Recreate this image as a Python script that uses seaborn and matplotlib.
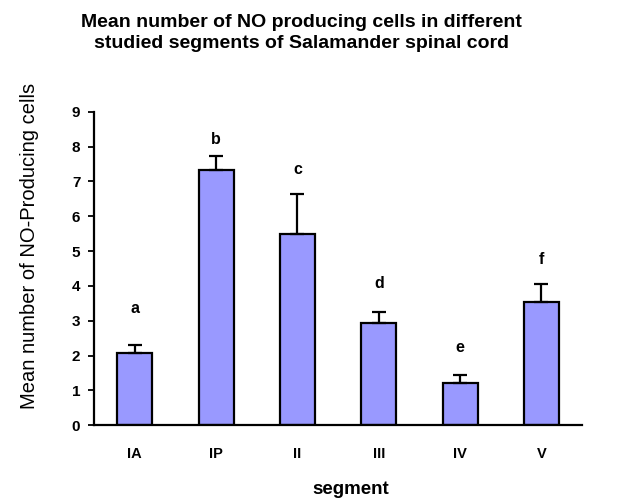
import matplotlib
matplotlib.use("Agg")
import matplotlib.pyplot as plt
import seaborn as sns
import pandas as pd
import numpy as np

segments = ["IA", "IP", "II", "III", "IV", "V"]
means = [2.07, 7.33, 5.49, 2.94, 1.20, 3.53]
errors = [0.23, 0.40, 1.14, 0.30, 0.24, 0.51]
letters = ["a", "b", "c", "d", "e", "f"]
letter_y = [3.36, 8.2, 7.33, 4.08, 2.24, 4.77]

sns.set_theme(style="white")
plt.rcParams['font.family'] = ['Liberation Sans', 'DejaVu Sans']
plt.rcParams['text.color'] = 'black'
plt.rcParams['axes.labelcolor'] = 'black'
plt.rcParams['xtick.color'] = 'black'
plt.rcParams['ytick.color'] = 'black'

df = pd.DataFrame({"segment": segments, "mean": means})

fig = plt.figure(figsize=(6.32, 4.99), dpi=100)
ax = fig.add_axes([0.149, 0.148, 0.772, 0.628])

sns.barplot(data=df, x="segment", y="mean", ax=ax, color="#9999FF",
            saturation=1, width=0.43, edgecolor="black", linewidth=1.6)

x = np.arange(len(segments))
ax.errorbar(x, means, yerr=[np.zeros(len(errors)), errors], fmt="none",
            ecolor="black", elinewidth=1.6, capsize=5, capthick=1.6)

for xi, (lt, ly) in enumerate(zip(letters, letter_y)):
    ax.text(xi, ly, lt, ha="center", va="center", fontsize=11.5, fontweight="bold")

ax.set_xlim(-0.5, len(segments) - 0.5)
ax.set_ylim(0, 9)
ax.set_yticks(range(0, 10))
ax.set_xticks(np.arange(-0.5, len(segments), 1.0), minor=True)
ax.tick_params(axis="x", which="major", length=0, labelsize=10.5, pad=16)
ax.tick_params(axis="x", which="minor", length=4, width=1.3, direction="out")
ax.tick_params(axis="y", which="major", length=4, width=1.3, direction="out",
               labelsize=11, left=True, pad=6)
for lbl in ax.get_xticklabels() + ax.get_yticklabels():
    lbl.set_fontweight("bold")

for s in ["top", "right"]:
    ax.spines[s].set_visible(False)
for s in ["left", "bottom"]:
    ax.spines[s].set_color("black")
    ax.spines[s].set_linewidth(1.6)

ax.set_xlabel("")
ax.set_ylabel("")
fig.text(351 / 632, 1 - 489 / 499, "segment", ha="center", va="center",
         fontsize=13.5, fontweight="bold")
fig.text(30 / 632, 1 - 246 / 499, "Mean number of NO-Producing cells", ha="center",
         va="center", rotation=90, fontsize=14.5)

fig.text(301 / 632, 1 - 33 / 499,
         "Mean number of NO producing cells in different\nstudied segments of Salamander spinal cord",
         ha="center", va="center", fontsize=14, fontweight="bold", linespacing=1.25)

fig.savefig("out.png", dpi=100)
